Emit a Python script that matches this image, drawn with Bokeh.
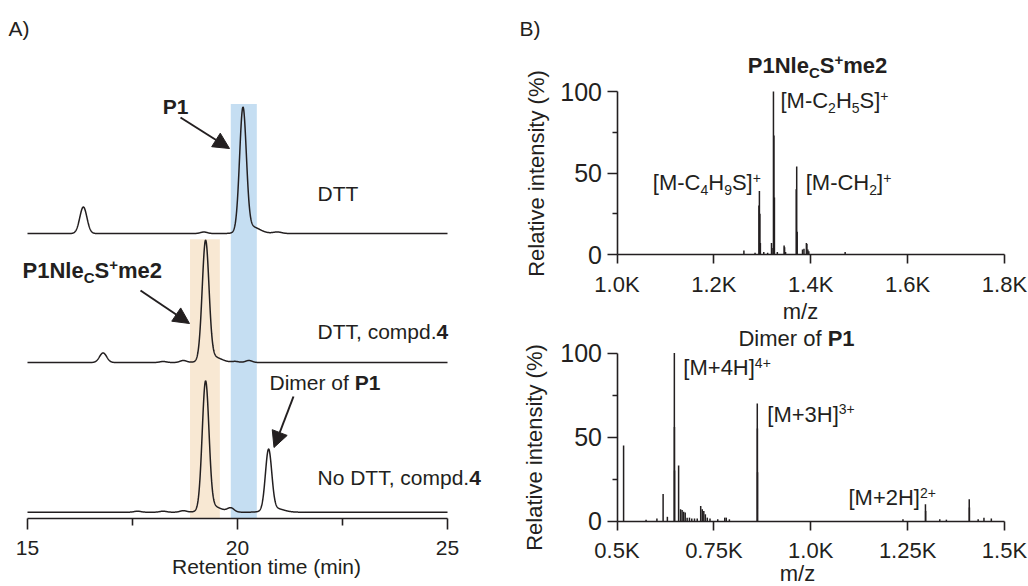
import numpy as np
from bokeh.plotting import figure
from bokeh.layouts import row, column
from bokeh.models import Label, Arrow, NormalHead, FixedTicker, Range1d, ColumnDataSource
from bokeh.embed import file_html
from bokeh.resources import INLINE

# ------------------------------------------------------------------ data
# HPLC traces: peak tables (retention time [min], height [a.u.], sigma [min])
dtt_rt = [16.33, 19.20, 20.13, 20.32, 20.95]
dtt_height = [26.5, 1.5, 122.0, 7.0, 1.5]
dtt_sigma = [0.085, 0.08, 0.08, 0.2, 0.1]

cmp_rt = [16.80, 18.23, 18.71, 19.24, 19.40, 19.95, 20.27]
cmp_height = [9.6, 1.0, 2.0, 118.0, 6.0, 1.0, 2.0]
cmp_sigma = [0.085, 0.08, 0.08, 0.08, 0.2, 0.08, 0.08]

nodtt_rt = [17.62, 18.23, 18.71, 19.24, 19.40, 19.84, 20.74, 20.88]
nodtt_height = [1.0, 1.0, 1.5, 127.0, 6.0, 4.0, 60.0, 4.0]
nodtt_sigma = [0.08, 0.08, 0.08, 0.08, 0.2, 0.08, 0.075, 0.2]

rt_ticks = [15, 20, 25]
rt_minor_ticks = [17.5, 22.5]
p1_window = (19.84, 20.46)        # blue band (P1)
prod_window = (18.87, 19.58)      # tan band (P1NlecS+me2)

# MS spectrum of P1NlecS+me2 (m/z, relative intensity %)
ms1_mz = [1262, 1285, 1293, 1294, 1295, 1296, 1303, 1311, 1319, 1320, 1323, 1324, 1325,
          1331, 1345, 1346, 1348, 1370, 1371, 1372, 1383, 1386, 1391, 1392, 1394, 1396, 1471]
ms1_int = [2.5, 1.0, 30, 39, 25, 7, 1.5, 1.0, 7, 4, 100, 73, 35,
           1.5, 5.5, 4.5, 1.5, 40, 54, 14, 3, 3.5, 7, 6.5, 3, 2, 1.5]
ms1_ticks = [1000, 1200, 1400, 1600, 1800]
ms1_tick_labels = ["1.0K", "1.2K", "1.4K", "1.6K", "1.8K"]

# MS spectrum of the dimer of P1
ms2_mz = [517, 575, 603, 619, 630, 648, 648.25, 648.5, 659, 664, 668, 672, 676, 681, 687, 693,
          700, 707, 716, 720, 724, 728, 733, 740, 760, 778, 782, 790, 862, 862.33, 862.67,
          1238, 1296, 1296.5, 1333, 1350, 1409, 1409.5, 1432, 1447, 1466]
ms2_int = [45, 0.8, 1.5, 16, 2.5, 100, 56, 30, 33, 7, 6.5, 5.5, 5, 2, 2, 1.5,
           1.5, 1.5, 9, 7, 6, 4, 2, 1.5, 1, 2, 2, 1, 70, 55, 29,
           1, 10, 6, 1, 0.8, 13, 8, 1, 2, 1.5]
ms2_ticks = [500, 750, 1000, 1250, 1500]
ms2_tick_labels = ["0.5K", "0.75K", "1.0K", "1.25K", "1.5K"]

ms_y_ticks = [0, 50, 100]
ms_y_minor = [25, 75]

# ------------------------------------------------------------------ style helpers
FONT = "Liberation Sans"
INK = "#231f20"

W_REG = {'A': 667, ')': 333, '(': 333, 'B': 667, 'D': 722, 'T': 611, ',': 278, ' ': 278, 'c': 500,
         'o': 556, 'm': 833, 'p': 556, 'd': 556, '.': 278, 'N': 722, 'i': 222, 'e': 556, 'r': 333,
         'f': 278, 'R': 722, 'n': 556, 't': 278, 'l': 222, 'a': 556, 'v': 500, 's': 500, 'y': 500,
         '%': 889, '/': 278, 'z': 500, '[': 278, 'M': 833, '-': 333, 'C': 722, 'H': 722, 'S': 667,
         ']': 278, '+': 584}
W_BOLD = {'P': 667, 'N': 722, 'l': 278, 'e': 556, 'C': 722, 'S': 667, '+': 584, 'm': 889, ' ': 278}
KERN = {('T', ','): -111, ('T', '.'): -111}


def tw(s, size, bold=False):
    t = W_BOLD if bold else W_REG
    w = sum(t.get(c, 556) for c in s)
    w += sum(KERN.get((a, b), 0) for a, b in zip(s, s[1:]))
    return w * size / 1000.0


class PageMap:
    """Maps page pixels to the data coordinates of one figure (frame = whole canvas)."""
    def __init__(self, box, xa, xb, ya, yb):
        self.box = box
        self.kx = (xb[1] - xa[1]) / (xb[0] - xa[0])
        self.x0 = xa
        self.ky = (yb[1] - ya[1]) / (yb[0] - ya[0])
        self.y0 = ya

    def x(self, px):
        return self.x0[1] + (px - self.x0[0]) * self.kx

    def y(self, py):
        return self.y0[1] + (py - self.y0[0]) * self.ky

    def px(self, x):
        return self.x0[0] + (x - self.x0[1]) / self.kx

    def x_range(self):
        l, t, w, h = self.box
        return Range1d(self.x(l), self.x(l + w))

    def y_range(self):
        l, t, w, h = self.box
        return Range1d(self.y(t + h), self.y(t))


def make_fig(m):
    l, t, w, h = m.box
    f = figure(width=w, height=h, x_range=m.x_range(), y_range=m.y_range(),
               min_border=0, min_border_left=0, min_border_right=0, min_border_top=0,
               min_border_bottom=0, title=None, toolbar_location=None, output_backend="svg")
    f.xgrid.visible = False
    f.ygrid.visible = False
    f.outline_line_color = None
    f.background_fill_color = "white"
    f.border_fill_color = "white"
    return f


MID = 0.35   # distance baseline -> vertical middle of the text, in em


def rich(fig, m, x_px, base_px, segs, size=22, sub=14, align="left", bold_all=False):
    """segments: (text, kind[, bold]) with kind n / sub / sup"""
    items = []
    for seg in segs:
        text, kind = seg[0], seg[1]
        bold = bold_all or (len(seg) > 2 and seg[2])
        fs = size if kind == "n" else sub
        items.append((text, kind, bold, fs, tw(text, fs, bold)))
    total = sum(i[4] for i in items)
    x = x_px - (total / 2 if align == "center" else (total if align == "right" else 0))
    for text, kind, bold, fs, w in items:
        up = 0 if kind == "n" else (-0.2 * size if kind == "sub" else 0.36 * size)
        cy = base_px - up - MID * fs
        fig.add_layout(Label(x=m.x(x), y=m.y(cy), text=text, text_font=FONT,
                             text_font_size=f"{fs}px",
                             text_font_style="bold" if bold else "normal",
                             text_color=INK, text_align="left", text_baseline="middle"))
        x += w


def plain(fig, m, x_px, base_px, text, align="left", size=22, bold=False):
    fig.add_layout(Label(x=m.x(x_px), y=m.y(base_px - MID * size), text=text, text_font=FONT,
                         text_font_size=f"{size}px", text_font_style="bold" if bold else "normal",
                         text_color=INK, text_align=align, text_baseline="middle"))


def vtitle(fig, m, cx, cy, text, size=22):
    fig.add_layout(Label(x=m.x(cx), y=m.y(cy), text=text, text_font=FONT,
                         text_font_size=f"{size}px", text_color=INK, text_align="center",
                         text_baseline="middle", angle=np.pi / 2))


def style_axis(ax, tick_out, minor_out, standoff, size):
    ax.axis_line_color = INK
    ax.axis_line_width = 1.6
    ax.major_tick_line_color = INK
    ax.major_tick_line_width = 1.6
    ax.minor_tick_line_color = INK
    ax.minor_tick_line_width = 1.6
    ax.major_tick_out = tick_out
    ax.major_tick_in = 0
    ax.minor_tick_out = minor_out
    ax.minor_tick_in = 0
    ax.major_label_text_font = FONT
    ax.major_label_text_font_size = f"{size}px"
    ax.major_label_text_color = INK
    ax.major_label_standoff = standoff


# ------------------------------------------------------------------ A) chromatograms
ma = PageMap((0, 0, 500, 586), (27, 15.0), (447, 25.0), (518, 0.0), (8, 510.0))
pa = make_fig(ma)
pa.yaxis.visible = False

t = np.linspace(15, 25, 2001)


def trace(rts, hs, sig):
    y = np.zeros_like(t)
    for r, h, s in zip(rts, hs, sig):
        y += h * np.exp(-0.5 * ((t - r) / s) ** 2)
    return y


offsets = [285.0, 156.0, 6.3]       # vertical stacking of the three traces
y1 = trace(dtt_rt, dtt_height, dtt_sigma)
y2 = trace(cmp_rt, cmp_height, cmp_sigma)
y3 = trace(nodtt_rt, nodtt_height, nodtt_sigma)

blue_top = offsets[0] + y1.max() + 3
tan_top = offsets[1] + y2.max() + 1
pa.quad(left=[p1_window[0]], right=[p1_window[1]], bottom=[0], top=[blue_top],
        fill_color="#c5def2", line_color=None)
pa.quad(left=[prod_window[0]], right=[prod_window[1]], bottom=[0], top=[tan_top],
        fill_color="#f8e8d3", line_color=None)

for yy, off in zip([y1, y2, y3], offsets):
    pa.line(t, yy + off, line_color=INK, line_width=1.5)

ax = pa.xaxis[0]
ax.ticker = FixedTicker(ticks=rt_ticks, minor_ticks=rt_minor_ticks)
ax.bounds = (15, 25)
ax.fixed_location = 0
style_axis(ax, 11, 7, 11, 21)

# texts
plain(pa, ma, 8, 35, "A)", size=21)
plain(pa, ma, 175, 113, "P1", align="center", bold=True, size=21)
plain(pa, ma, 317, 200.5, "DTT", size=21)
rich(pa, ma, 22, 278, [("P1Nle", "n"), ("C", "sub"), ("S", "n"), ("+", "sup"), ("me2", "n")],
     size=22, sub=15, bold_all=True)
rich(pa, ma, 317, 338.5, [("DTT, compd.", "n"), ("4", "n", True)], size=21)
rich(pa, ma, 269, 389.5, [("Dimer of ", "n"), ("P1", "n", True)], size=21)
rich(pa, ma, 317, 484.5, [("No DTT, compd.", "n"), ("4", "n", True)], size=21)
plain(pa, ma, 266, 573, "Retention time (min)", align="center", size=21)

# arrows (page px start -> tip)
arrows_a = [((180, 117), (229, 148)), ((140, 290), (189, 323)), ((293, 396), (273.5, 447))]
for (sx, sy), (ex, ey) in arrows_a:
    pa.add_layout(Arrow(end=NormalHead(size=16, fill_color=INK, line_color=INK, line_width=1),
                        x_start=ma.x(sx), y_start=ma.y(sy), x_end=ma.x(ex), y_end=ma.y(ey),
                        line_color=INK, line_width=2))

# ------------------------------------------------------------------ B) mass spectra
mb1 = PageMap((500, 0, 528, 325), (616.5, 1000.0), (1004.0, 1800.0), (254.0, 0.0), (91.0, 100.0))
mb2 = PageMap((500, 325, 528, 261), (616.5, 500.0), (1004.0, 1500.0), (520.5, 0.0), (352.5, 100.0))
pb1 = make_fig(mb1)
pb2 = make_fig(mb2)

for f, mz, inten, ticks, labels in [(pb1, ms1_mz, ms1_int, ms1_ticks, ms1_tick_labels),
                                    (pb2, ms2_mz, ms2_int, ms2_ticks, ms2_tick_labels)]:
    src = ColumnDataSource(dict(mz=mz, inten=inten))
    f.segment(x0="mz", y0=0, x1="mz", y1="inten", source=src, line_color=INK, line_width=1.5)
    xa = f.xaxis[0]
    xa.ticker = FixedTicker(ticks=ticks, minor_ticks=[])
    xa.major_label_overrides = {tk: lb for tk, lb in zip(ticks, labels)}
    xa.bounds = (ticks[0], ticks[-1])
    xa.fixed_location = 0
    style_axis(xa, 9, 0, 8, 22)
    ya = f.yaxis[0]
    ya.ticker = FixedTicker(ticks=ms_y_ticks, minor_ticks=ms_y_minor)
    ya.bounds = (0, 100)
    ya.fixed_location = ticks[0]
    style_axis(ya, 10, 5, 5, 25)

# B) texts
plain(pb1, mb1, 519, 35, "B)", size=21)
rich(pb1, mb1, 817, 73, [("P1Nle", "n"), ("C", "sub"), ("S", "n"), ("+", "sup"), ("me2", "n")],
     size=22, sub=15, align="center", bold_all=True)
rich(pb1, mb1, mb1.px(1323) + 7, 108,
     [("[M-C", "n"), ("2", "sub"), ("H", "n"), ("5", "sub"), ("S]", "n"), ("+", "sup")])
rich(pb1, mb1, mb1.px(1295) + 1, 190,
     [("[M-C", "n"), ("4", "sub"), ("H", "n"), ("9", "sub"), ("S]", "n"), ("+", "sup")], align="right")
rich(pb1, mb1, mb1.px(1371) + 9, 190, [("[M-CH", "n"), ("2", "sub"), ("]", "n"), ("+", "sup")])
plain(pb1, mb1, 800, 319, "m/z", align="center")
vtitle(pb1, mb1, 536, 173, "Relative intensity (%)")

rich(pb2, mb2, 796, 346, [("Dimer of ", "n"), ("P1", "n", True)], align="center")
rich(pb2, mb2, mb2.px(648) + 9, 375, [("[M+4H]", "n"), ("4+", "sup")])
rich(pb2, mb2, mb2.px(862) + 10, 421.5, [("[M+3H]", "n"), ("3+", "sup")])
rich(pb2, mb2, mb2.px(1296) - 77, 505, [("[M+2H]", "n"), ("2+", "sup")])
plain(pb2, mb2, 797, 581, "m/z", align="center")
vtitle(pb2, mb2, 534, 447, "Relative intensity (%)")

layout = row(pa, column(pb1, pb2, spacing=0), spacing=0)
open("out.html", "w").write(file_html(layout, INLINE))
